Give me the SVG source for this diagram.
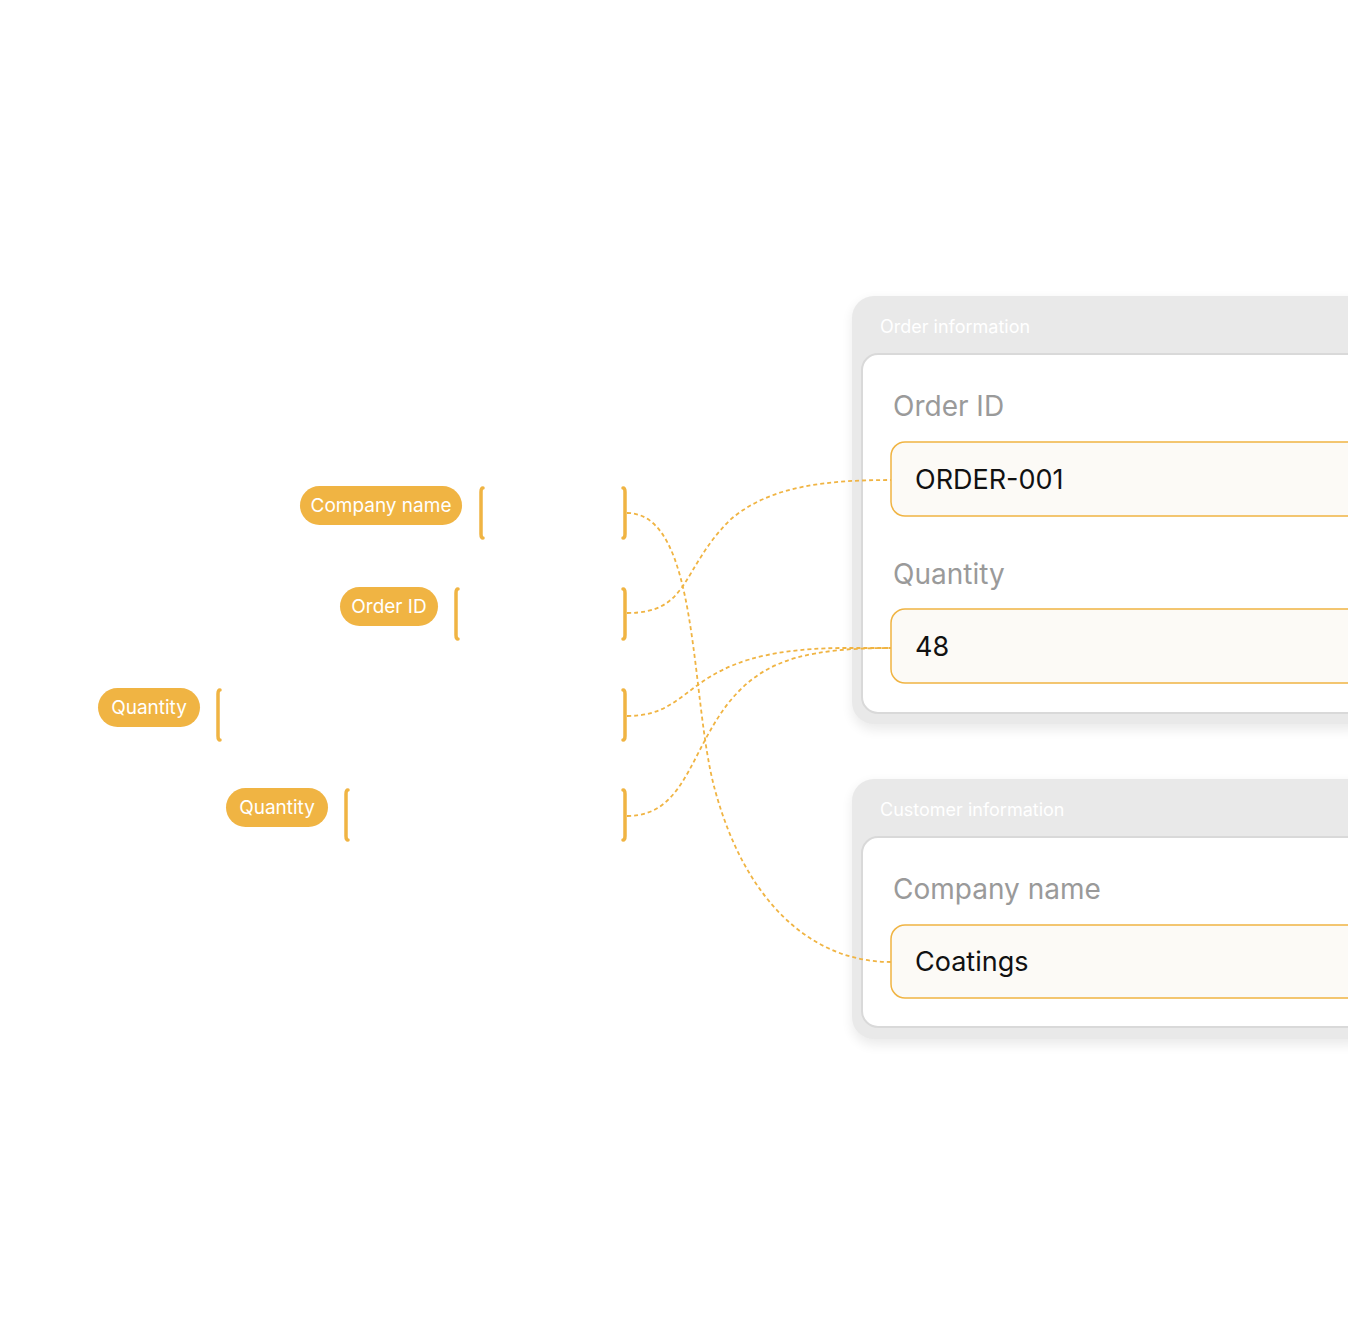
<svg xmlns="http://www.w3.org/2000/svg" width="1348" height="1328" viewBox="0 0 1348 1328">
<defs>
<style>
.pill{fill:#F0B443}
.pt{font-family:Inter,"Liberation Sans",sans-serif;font-size:19px;fill:#fff;text-anchor:middle}
.br{fill:none;stroke:#F0B443;stroke-width:3.5;stroke-linecap:round}
.con{fill:none;stroke:#F0B443;stroke-width:1.8;stroke-dasharray:4 3}
.panel{fill:#E9E9E9}
.card{fill:#fff;stroke:#D9D9D9;stroke-width:2}
.field{fill:#FCFAF6;stroke:#F0B443;stroke-width:1.5}
.ph{font-family:Inter,"Liberation Sans",sans-serif;font-size:18px;fill:#fff}
.lbl{font-family:Inter,"Liberation Sans",sans-serif;font-size:28px;fill:#9A9A9A}
.val{font-family:Inter,"Liberation Sans",sans-serif;font-size:27px;fill:#111}
</style>
<filter id="sh" x="-10%" y="-10%" width="130%" height="130%"><feGaussianBlur stdDeviation="6"/></filter>
</defs>
<g id="pill-company"><rect class="pill" x="300" y="486" width="162" height="39" rx="19.5"/><text class="pt" x="381" y="512">Company name</text>
<path class="br" d="M483 488 Q481 488 481 492 V534 Q481 538 483 538"/><path class="br" d="M623 488 Q625 488 625 492 V534 Q625 538 623 538"/></g>
<g id="pill-order"><rect class="pill" x="340" y="587" width="98" height="39" rx="19.5"/><text class="pt" x="389" y="613">Order ID</text>
<path class="br" d="M458 589 Q456 589 456 593 V635 Q456 639 458 639"/><path class="br" d="M623 589 Q625 589 625 593 V635 Q625 639 623 639"/></g>
<g id="pill-qty1"><rect class="pill" x="98" y="688" width="102" height="39" rx="19.5"/><text class="pt" x="149" y="714">Quantity</text>
<path class="br" d="M220 690 Q218 690 218 694 V736 Q218 740 220 740"/><path class="br" d="M623 690 Q625 690 625 694 V736 Q625 740 623 740"/></g>
<g id="pill-qty2"><rect class="pill" x="226" y="788" width="102" height="39" rx="19.5"/><text class="pt" x="277" y="814">Quantity</text>
<path class="br" d="M348 790 Q346 790 346 794 V836 Q346 840 348 840"/><path class="br" d="M623 790 Q625 790 625 794 V836 Q625 840 623 840"/></g>
<g id="order-panel">
<rect x="852" y="300" width="520" height="430" rx="22" fill="#000" opacity="0.08" filter="url(#sh)"/>
<rect class="panel" x="852" y="296" width="520" height="428" rx="22"/>
<text class="ph" x="880" y="333">Order information</text>
<rect class="card" x="862" y="354" width="510" height="359" rx="16"/>
<text class="lbl" x="893" y="416">Order ID</text>
<rect class="field" x="891" y="442" width="480" height="74" rx="14"/>
<text class="val" x="915" y="489">ORDER-001</text>
<text class="lbl" x="893" y="584">Quantity</text>
<rect class="field" x="891" y="609" width="480" height="74" rx="14"/>
<text class="val" x="915" y="656">48</text>
</g>
<g id="customer-panel">
<rect x="852" y="783" width="520" height="262" rx="22" fill="#000" opacity="0.08" filter="url(#sh)"/>
<rect class="panel" x="852" y="779" width="520" height="260" rx="22"/>
<text class="ph" x="880" y="816">Customer information</text>
<rect class="card" x="862" y="837" width="510" height="190" rx="16"/>
<text class="lbl" x="893" y="899">Company name</text>
<rect class="field" x="891" y="925" width="480" height="73" rx="14"/>
<text class="val" x="915" y="971">Coatings</text>
</g>
<g id="connectors">
<path class="con" d="M627 513 C700 513 690 700 715 790 C745 900 810 962 891 962"/>
<path class="con" d="M627 613 C690 613 680 570 730 520 C770 485 830 480 891 480"/>
<path class="con" d="M627 716 C700 716 680 650 840 648 L891 648"/>
<path class="con" d="M627 816 C690 816 690 740 740 690 C770 660 810 648 891 648"/>
</g>
</svg>
